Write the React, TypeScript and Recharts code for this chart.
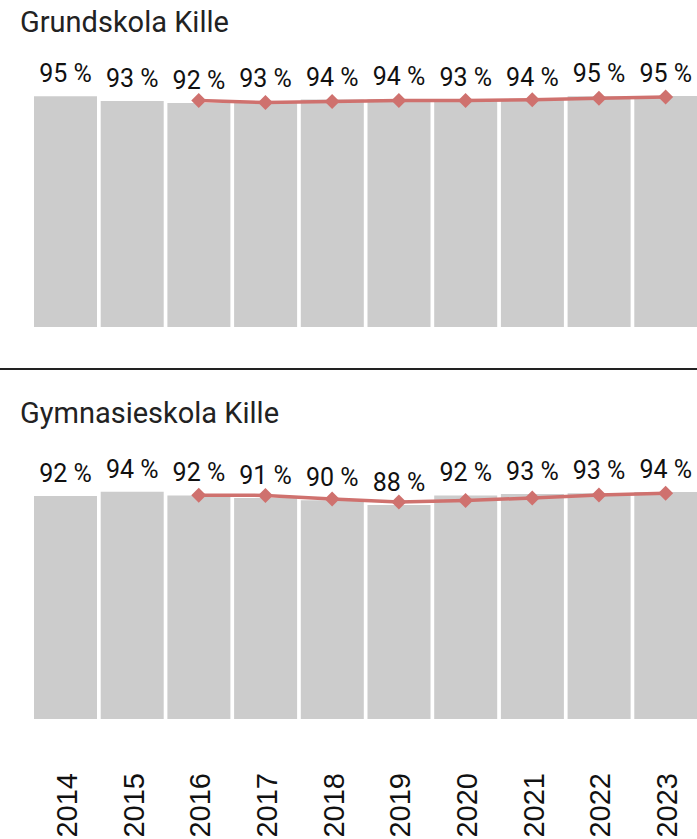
import React from 'react';
import { ComposedChart, Bar, Line, XAxis, YAxis, LabelList } from 'recharts';

const YEARS = ['2014', '2015', '2016', '2017', '2018', '2019', '2020', '2021', '2022', '2023'];

// Grundskola: bars (share, %) and comparison line (starts 2016)
const GRUND_BARS = [95.0, 93.0, 92.2, 92.8, 93.6, 93.7, 93.4, 93.6, 95.0, 95.1];
const GRUND_LINE = [null, null, 93.2, 92.4, 92.8, 93.2, 93.2, 93.5, 94.1, 94.6];

// Gymnasieskola
const GYMN_BARS = [92.2, 93.9, 92.4, 91.3, 90.4, 88.4, 92.4, 93.0, 93.3, 93.8];
const GYMN_LINE = [null, null, 92.5, 92.4, 90.9, 89.7, 90.3, 91.3, 92.6, 93.3];

const BAR_COLOR = '#cccccc';
const LINE_COLOR = '#cf716e';

function Diamond(props: any) {
  const { cx, cy } = props;
  if (cx == null || cy == null || props.value == null) return null;
  const r = 7.5;
  return (
    <polygon
      points={`${cx},${cy - r} ${cx + r},${cy} ${cx},${cy + r} ${cx - r},${cy}`}
      fill={LINE_COLOR}
    />
  );
}

function YearTick(props: any) {
  const { x, y, payload } = props;
  const ty = y + 46;
  return (
    <text
      x={x + 1.5}
      y={ty}
      transform={`rotate(-90, ${x + 1.5}, ${ty})`}
      textAnchor="end"
      dominantBaseline="central"
      fontFamily="'Liberation Sans', Arial, sans-serif"
      fontSize={29}
      fill="#111"
    >
      {payload.value}
    </text>
  );
}

function Panel({ bars, line, showYears, height }: { bars: number[]; line: (number | null)[]; showYears: boolean; height: number }) {
  const data = YEARS.map((year, i) => ({ year, value: bars[i], line: line[i] }));
  return (
    <ComposedChart width={699} height={height} data={data} margin={{ top: 44, right: 0, left: 32, bottom: 0 }}>
      <XAxis
        dataKey="year"
        hide={!showYears}
        axisLine={false}
        tickLine={false}
        interval={0}
        height={120}
        tick={<YearTick />}
      />
      <YAxis domain={[0, 100]} hide />
      <Bar dataKey="value" fill={BAR_COLOR} barSize={63} isAnimationActive={false}>
        <LabelList
          dataKey="value"
          position="top"
          offset={14}
          formatter={(v: any) => `${Math.round(Number(v))} %`}
          fontSize={25}
          fontFamily="Roboto"
          fill="#111"
        />
      </Bar>
      <Line
        type="linear"
        dataKey="line"
        stroke={LINE_COLOR}
        strokeWidth={3.5}
        dot={<Diamond />}
        activeDot={false}
        isAnimationActive={false}
      />
    </ComposedChart>
  );
}

export default function App() {
  const title: React.CSSProperties = {
    position: 'absolute',
    left: 20,
    fontFamily: 'Roboto, sans-serif',
    fontSize: 29,
    color: '#222',
    whiteSpace: 'nowrap',
  };
  return (
    <div
      style={{
        position: 'absolute',
        left: 0,
        top: 0,
        width: 697,
        height: 839,
        overflow: 'hidden',
        background: '#fff',
      }}
    >
      <div style={{ ...title, top: 5 }}>Grundskola Kille</div>
      <div style={{ position: 'absolute', left: 0, top: 40 }}>
        <Panel bars={GRUND_BARS} line={GRUND_LINE} showYears={false} height={287} />
      </div>
      <div style={{ position: 'absolute', left: 0, top: 368, width: 697, height: 2, background: '#222' }} />
      <div style={{ ...title, top: 396 }}>Gymnasieskola Kille</div>
      <div style={{ position: 'absolute', left: 0, top: 433 }}>
        <Panel bars={GYMN_BARS} line={GYMN_LINE} showYears={true} height={406} />
      </div>
    </div>
  );
}
